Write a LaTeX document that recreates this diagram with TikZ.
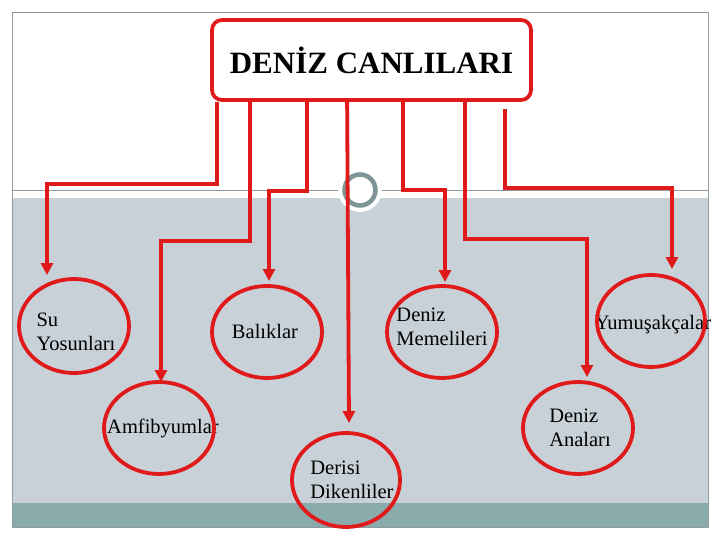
\documentclass[tikz,border=0pt]{standalone}
\usepackage{fontspec}
\setmainfont{Liberation Serif}
\usetikzlibrary{positioning,arrows.meta,calc}
\definecolor{cred}{HTML}{E01A1A}
\definecolor{cpane}{HTML}{C8D1D7}
\definecolor{cband}{HTML}{8AABAB}
\definecolor{cframe}{HTML}{8E9A9E}
\definecolor{cring}{HTML}{7E9496}
\tikzset{
  head/.style={draw=cred, line width=3.8pt, rounded corners=10pt, fill=white, minimum width=319pt, minimum height=80pt, font=\fontsize{31}{36}\selectfont\bfseries},
  lbl/.style={align=left, font=\fontsize{20.5}{24}\selectfont, inner sep=0pt},
  oval/.style={draw=cred, line width=3.8pt},
  conn/.style={draw=cred, line width=3.8pt, -{Triangle[length=12pt,width=12pt]}},
}
\begin{document}
\begin{tikzpicture}[x=1pt,y=-1pt]
  \useasboundingbox (0,0) rectangle (720,540);
  % slide background
  \fill[white] (0,0) rectangle (720,540);
  \fill[cpane] (12,198) rectangle (708,503);
  \fill[cband] (12,503) rectangle (708,527);
  \draw[cframe, line width=0.8pt] (12,12) rectangle (708,527);
  \draw[cframe, line width=0.8pt] (12,190) -- (708,190);
  \fill[white] (360,190) circle (22);
  \draw[cring, line width=4.5pt] (360,190) circle (15.5);
  % title
  \node[head] (title) at (371.5,60) {DENİZ CANLILARI};
  % groups
  \node[lbl] (sy) at (76,332) {Su\\Yosunları};
  \draw[oval] (74,326) ellipse [x radius=55, y radius=47];
  \node[lbl] (amf) at (163,428) {Amfibyumlar};
  \draw[oval] (159,428) ellipse [x radius=55, y radius=46];
  \node[lbl] (bal) at (265,331) {Balıklar};
  \draw[oval] (267,332) ellipse [x radius=55, y radius=46];
  \node[lbl] (der) at (352,480) {Derisi\\Dikenliler};
  \draw[oval] (346,480) ellipse [x radius=54, y radius=47];
  \node[lbl] (mem) at (442,327) {Deniz\\Memelileri};
  \draw[oval] (442,332) ellipse [x radius=55, y radius=46];
  \node[lbl] (yum) at (653,325) {Yumuşakçalar};
  \draw[oval] (651,321) ellipse [x radius=54, y radius=46];
  \node[lbl] (ana) at (580,428) {Deniz\\Anaları};
  \draw[oval] (578,428) ellipse [x radius=55, y radius=46];
  % arrow ends
  \coordinate (sy-in) at (47,275);
  \coordinate (amf-in) at (161,382);
  \coordinate (bal-in) at (269,281);
  \coordinate (der-in) at (349,423);
  \coordinate (mem-in) at (445,282);
  \coordinate (ana-in) at (587,377);
  \coordinate (yum-in) at (672,269);
  % connectors
  \draw[conn] ($(title.south west)+(7,0)$) |- (sy-in |- 0,184) -- (sy-in);
  \draw[conn] ($(title.south west)+(40,0)$) |- (amf-in |- 0,241) -- (amf-in);
  \draw[conn] ($(title.south west)+(97,0)$) |- (bal-in |- 0,191) -- (bal-in);
  \draw[conn] ($(title.south west)+(137,0)$) -- (der-in);
  \draw[conn] ($(title.south west)+(193,0)$) |- (mem-in |- 0,190) -- (mem-in);
  \draw[conn] ($(title.south west)+(255,0)$) |- (ana-in |- 0,239) -- (ana-in);
  \draw[conn] ($(title.south west)+(295,7)$) |- (yum-in |- 0,188) -- (yum-in);
\end{tikzpicture}
\end{document}
